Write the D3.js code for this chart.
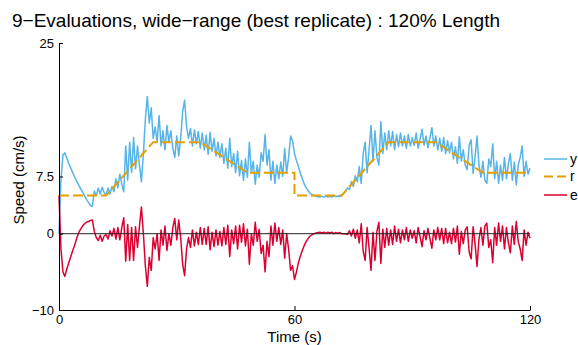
<!DOCTYPE html>
<html>
<head>
<meta charset="utf-8">
<script src="https://cdn.jsdelivr.net/npm/d3@7/dist/d3.min.js"></script>
<style>
  body { margin: 0; background: #fff; }
  svg { display: block; font-family: "Liberation Sans", Arial, Helvetica, sans-serif; }
  .axis path, .axis line { stroke: #000; }
  .axis text { font-size: 13px; fill: #000; }
</style>
</head>
<body>
<svg id="chart" width="578" height="345"></svg>
<script>
const title = "9−Evaluations, wide−range (best replicate) : 120% Length";
const xLabel = "Time (s)";
const yLabel = "Speed (cm/s)";

// sampled every dt seconds, 0..120 s
const dt = 0.5;

// measured speed y (cm/s)
const speedY = [
  0, 7.0, 10.3, 10.6, 9.9, 9.2, 8.6, 8.0, 7.4, 6.9, 6.4, 5.9, 5.5, 5.0, 4.5, 4.1, 3.7, 3.6, 5.6, 5.0,
  6.0, 5.2, 6.1, 5.4, 5.1, 6.0, 5.2, 6.2, 5.5, 7.2, 6.0, 7.8, 6.5, 5.5, 11.5, 7.0, 12.0, 8.0, 12.6, 8.5,
  11.5, 9.0, 6.8, 10.5, 15.0, 18.0, 14.5, 16.5, 12.5, 14.0, 12.0, 15.5, 11.5, 13.5, 11.0, 14.2, 12.0, 13.5, 11.2, 10.0,
  12.8, 10.2, 12.5, 16.0, 17.5, 14.0, 12.5, 13.8, 11.5, 13.6, 11.8, 13.4, 11.2, 13.2, 11.0, 12.9, 10.4, 13.3, 10.8, 12.5,
  10.2, 12.0, 10.0, 11.8, 9.2, 11.2, 8.6, 12.5, 8.8, 10.5, 8.0, 10.8, 7.6, 9.6, 7.0, 9.8, 7.4, 12.0, 8.0, 9.5,
  6.5, 9.0, 7.4, 10.6, 9.5, 13.0, 9.0, 11.0, 7.0, 9.5, 6.6, 9.0, 7.2, 9.4, 7.5, 11.2, 8.0, 10.0, 12.8, 12.2,
  10.5, 9.6, 8.8, 7.9, 7.2, 6.5, 6.0, 5.6, 5.3, 5.1, 5.0, 4.9, 4.85, 4.8, 4.9, 4.8, 4.95, 4.8, 4.9, 4.8,
  5.0, 4.85, 4.95, 4.85, 5.0, 5.3, 5.6, 6.0, 5.8, 6.8, 6.2, 7.6, 6.8, 8.8, 6.6, 10.5, 12.0, 8.0, 11.0, 14.2,
  9.5, 13.5, 10.0, 9.0, 14.7, 10.5, 13.2, 11.0, 13.5, 11.5, 13.4, 11.0, 13.0, 11.4, 13.2, 11.5, 12.8, 11.2, 13.0, 11.5,
  12.6, 11.6, 13.2, 11.2, 12.4, 13.7, 11.6, 12.8, 11.3, 12.6, 13.9, 11.5, 12.8, 11.0, 12.5, 10.8, 12.6, 10.5, 12.2, 10.6,
  12.0, 9.8, 11.4, 9.2, 12.7, 9.5, 11.0, 9.0, 8.4, 11.6, 12.3, 7.9, 10.0, 12.8, 9.0, 7.4, 9.5, 7.0, 6.6, 9.8,
  8.8, 11.8, 7.2, 9.5, 6.6, 9.0, 7.0, 10.0, 7.2, 9.2, 10.5, 7.0, 9.4, 6.4, 9.0, 10.0, 11.5, 7.5, 9.5, 7.8,
  8.6
];

// tracking error e
const errorE = [
  5.0, -2.0, -5.0, -5.6, -4.6, -3.8, -3.0, -2.2, -1.5, -0.6, 0.1, 0.6, 1.0, 1.3, 1.5, 1.6, 1.75, 1.8, 0.3, -0.5,
  -0.9, -0.2, -1.0, -0.3, -0.1, -0.7, 0.4, -0.3, 0.7, -0.7, 0.8, -0.8, 0.8, 2.1, -3.6, 1.2, -3.5, 0.8, -3.5, 0.9,
  -1.8, 1.0, 3.5, 0.0, -4.2, -6.9, -3.1, -4.8, -0.5, -2.0, 0.0, -3.5, 0.5, -1.5, 1.0, -2.2, 0.0, -1.5, 0.8, 2.0,
  -0.8, 1.8, -0.5, -4.0, -5.5, -2.0, -0.5, -1.8, 0.5, -1.6, 0.2, -1.4, 0.8, -1.4, 0.7, -1.4, 0.9, -2.1, 0.2, -1.7,
  0.5, -1.5, 0.3, -1.6, 0.8, -1.4, 1.1, -3.0, 0.5, -1.3, 1.0, -2.0, 1.1, -1.1, 1.3, -1.6, 0.6, -4.0, 0.0, -1.5,
  1.5, -1.0, 0.6, -2.6, -1.5, -5.0, -1.0, -3.0, 1.0, -1.5, 1.4, -1.0, 0.8, -1.4, 0.5, -3.2, 0.0, -2.0, -4.8, -4.2,
  -6.0, -5.0, -3.8, -2.9, -2.2, -1.5, -1.0, -0.6, -0.3, -0.1, 0.0, 0.1, 0.15, 0.2, 0.1, 0.2, 0.05, 0.2, 0.1, 0.2,
  0.0, 0.15, 0.05, 0.15, 0.0, 0.0, 0.0, -0.1, 0.4, -0.3, 0.6, -0.6, 0.5, -1.2, 1.3, -2.3, -3.5, 0.8, -1.9, -4.8,
  0.2, -3.5, 0.3, 1.5, -3.9, 0.6, -1.8, 0.7, -1.5, 0.5, -1.4, 1.0, -1.0, 0.6, -1.2, 0.5, -0.8, 0.8, -1.0, 0.5,
  -0.6, 0.4, -1.2, 0.8, -0.4, -1.7, 0.4, -0.8, 0.7, -0.6, -1.9, 0.5, -0.8, 0.8, -0.8, 0.7, -1.3, 0.7, -1.2, 0.2,
  -1.3, 0.7, -1.1, 1.0, -2.7, 0.3, -1.3, 0.5, 0.9, -2.4, -3.3, 0.9, -1.3, -4.3, -0.7, 0.8, -1.5, 1.0, 1.4, -1.8,
  -0.8, -3.8, 0.8, -1.5, 1.4, -1.0, 1.0, -2.0, 0.8, -1.2, -2.5, 1.0, -1.4, 1.6, -1.0, -2.0, -3.5, 0.5, -1.5, 0.2,
  -0.6
];

// reference r, piecewise linear breakpoints
const refTime = [0, 12, 24, 36, 48, 60, 60, 72, 84, 96, 108, 120];
const refR = [5, 5, 12, 12, 8, 8, 5, 5, 12, 12, 8, 8];

const xTicks = [0, 60, 120];
const yTicks = [-10, 0, 7.5, 25];
const legendLabels = ["y", "r", "e"];
const colors = { y: "#56B4E9", r: "#E69F00", e: "#DC0032" };

const svg = d3.select("#chart");

const x = d3.scaleLinear().domain([0, 120]).range([59, 530]);
const y = d3.scaleLinear().domain([-10, 25]).range([310, 43]);

const fmt = (d) => (d < 0 ? "\u2212" + Math.abs(d) : String(d));

const line = d3.line().x((d) => x(d[0])).y((d) => y(d[1]));

const ySeries = speedY.map((v, i) => [i * dt, v]);
const eSeries = errorE.map((v, i) => [i * dt, v]);
const rSeries = refTime.map((t, i) => [t, refR[i]]);

svg.append("path")
  .datum(ySeries)
  .attr("d", line)
  .attr("fill", "none")
  .attr("stroke", colors.y)
  .attr("stroke-width", 1.5)
  .attr("stroke-linejoin", "round");

svg.append("path")
  .datum(rSeries)
  .attr("d", line)
  .attr("fill", "none")
  .attr("stroke", colors.r)
  .attr("stroke-width", 2)
  .attr("stroke-dasharray", "10,4");

svg.append("path")
  .datum(eSeries)
  .attr("d", line)
  .attr("fill", "none")
  .attr("stroke", colors.e)
  .attr("stroke-width", 1.5)
  .attr("stroke-linejoin", "round");

// zero line
svg.append("line")
  .attr("x1", x(0)).attr("x2", x(120))
  .attr("y1", y(0)).attr("y2", y(0))
  .attr("stroke", "#222")
  .attr("stroke-width", 1);

// axes, MATLAB style inward ticks
svg.append("g")
  .attr("class", "axis")
  .attr("transform", `translate(${x(0)},0)`)
  .call(d3.axisLeft(y).tickValues(yTicks).tickFormat(fmt).tickSizeInner(-4).tickSizeOuter(0).tickPadding(5));

svg.append("g")
  .attr("class", "axis")
  .attr("transform", `translate(0,${y(-10)})`)
  .call(d3.axisBottom(x).tickValues(xTicks).tickFormat(fmt).tickSizeInner(-4).tickSizeOuter(0).tickPadding(5));

svg.selectAll(".axis text").style("font-size", "13px");

svg.append("text")
  .attr("x", 12).attr("y", 27)
  .attr("font-size", 19)
  .text(title);

svg.append("text")
  .attr("x", x(60)).attr("y", 342)
  .attr("text-anchor", "middle")
  .attr("font-size", 15)
  .text(xLabel);

svg.append("text")
  .attr("transform", "translate(24,180) rotate(-90)")
  .attr("text-anchor", "middle")
  .attr("font-size", 15)
  .text(yLabel);

// legend
const legend = svg.append("g").attr("transform", "translate(544,159)");
legendLabels.forEach((k, i) => {
  const gy = [0, 17.5, 36][i];
  legend.append("line")
    .attr("x1", 0).attr("x2", 23)
    .attr("y1", gy).attr("y2", gy)
    .attr("stroke", colors[k])
    .attr("stroke-width", k === "r" ? 2 : 1.5)
    .attr("stroke-dasharray", k === "r" ? "9,4" : null);
  legend.append("text")
    .attr("x", 26).attr("y", gy)
    .attr("dy", "0.35em")
    .attr("font-size", 14)
    .text(k);
});
</script>
</body>
</html>
